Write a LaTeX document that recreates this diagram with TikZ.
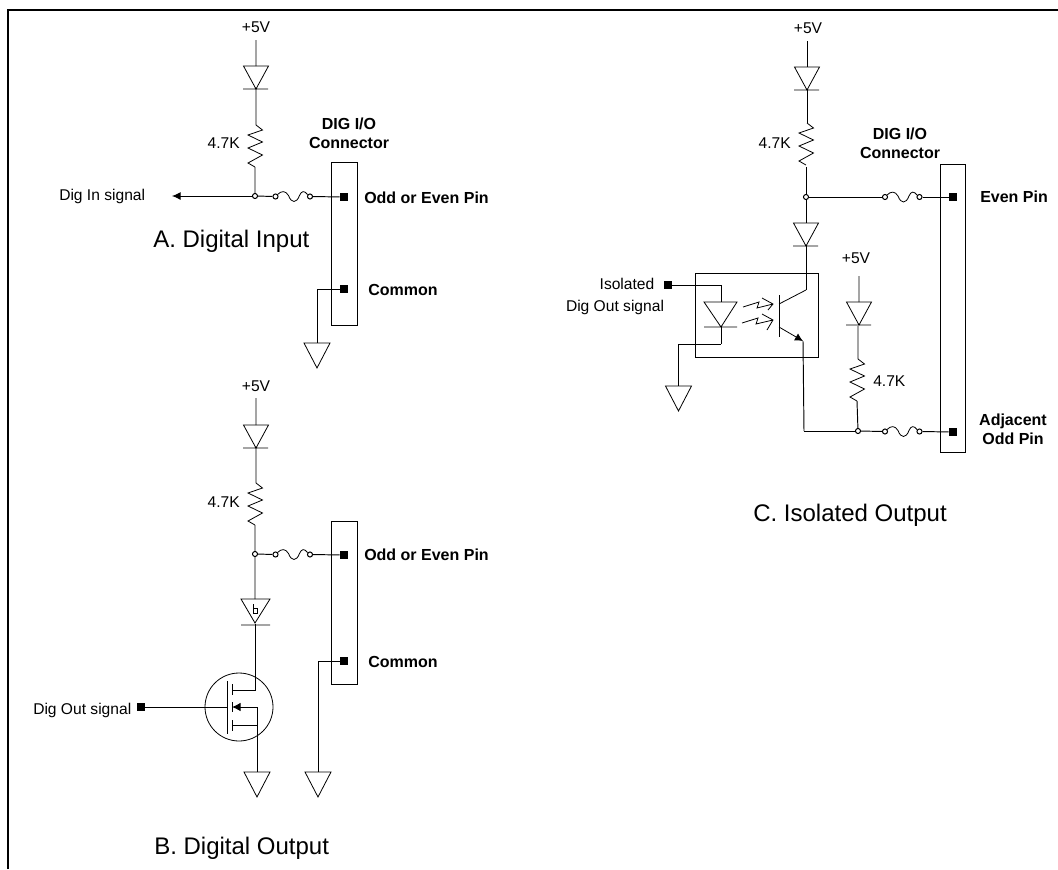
\documentclass[tikz,border=0pt]{standalone}
\usepackage{fontspec}
\setmainfont{Liberation Sans}
\usetikzlibrary{arrows.meta}
\tikzset{
  wire/.style={line width=.72pt},
  part/.style={line width=.6pt,line join=miter},
  lbl/.style={inner sep=0pt,font=\fontsize{11.7}{13}\selectfont},
  pinlbl/.style={inner sep=0pt,font=\fontsize{12}{13}\selectfont\bfseries,align=center},
  caption/.style={inner sep=0pt,font=\fontsize{18}{21}\selectfont},
  pin/.style={fill=black,inner sep=0pt,minimum size=6pt},
  junct/.style={draw,fill=white,circle,line width=.75pt,inner sep=0pt,minimum size=3.8pt}
}
\begin{document}
\begin{tikzpicture}[x=.75pt,y=-.75pt]
\def\diode#1{\draw[part,shift={(#1)}] (-12.5,0) -- (12.5,0) -- (0,23) -- cycle (-13,23) -- (12,23);}
\def\resistor#1{\draw[part,shift={(#1)}] (0,0) -- (6.5,5) -- (-8,10) -- (6.5,17) -- (-8,23) -- (6.5,30) -- (-8,38) -- (-1,42);}
\def\ground#1{\draw[part,shift={(#1)}] (-13,0) -- (13,0) -- (0,25) -- cycle;}
\def\fuse#1{\draw[part,shift={(#1)}] (2,-2) .. controls (6,-6) and (10,-6) .. (13,-1) .. controls (16,7) and (21,7) .. (24,-1) .. controls (26,-6) and (29,-6) .. (32,-2);}
\useasboundingbox (0,0) rectangle (1058,869);
\draw[line width=1.9pt] (8,869) -- (8,10) -- (1058,10);

% A. Digital Input
\node[lbl] (aV) at (256,27) {+5V};
\coordinate (aVw) at (256,40);
\coordinate (aDt) at (256,66);
\coordinate (aDb) at (256,89);
\coordinate (aRt) at (256,125);
\coordinate (aRb) at (255,167);
\node[junct] (aJ) at (255,196) {};
\node[junct] (aFl) at (275.5,196.5) {};
\node[junct] (aFr) at (310,196.5) {};
\node[pin] (aP) at (344,197) {};
\node[pin] (aC) at (344,289) {};
\coordinate (aAr) at (172,196);
\coordinate (aGt) at (317,343);
\diode{aDt}
\resistor{aRt}
\fuse{aFl}
\ground{aGt}
\draw[wire] (aVw) -- (aDt) (aDb) -- (aRt) (aRb) -- (aJ) (aFr) -- (aP);
\draw[wire] (aFl) -- (aJ);
\draw[wire,-{Latex[length=6.5pt,width=6pt]}] (aJ) -- (aAr);
\draw[wire] (aC) -| (aGt);
\draw[part] (331,162) rectangle (357,325);
\node[pinlbl] (aT) at (349,133) {DIG I/O\\[1.5pt]Connector};
\node[lbl,anchor=east] (aK) at (240,143) {4.7K};
\node[lbl,anchor=west] (aIn) at (59,196) {Dig In signal};
\node[pinlbl,anchor=west] (aPl) at (364,198) {Odd or Even Pin};
\node[pinlbl,anchor=west] (aCl) at (368,290) {Common};
\node[caption,anchor=west] (aCap) at (153,241) {A. Digital Input};

% B. Digital Output
\node[lbl] (bV) at (256,386) {+5V};
\coordinate (bVw) at (256,398);
\coordinate (bDt) at (256,425);
\coordinate (bDb) at (256,448);
\coordinate (bRt) at (256,483);
\coordinate (bRb) at (255,525);
\node[junct] (bJ) at (255,554) {};
\node[junct] (bFl) at (275.5,554.5) {};
\node[junct] (bFr) at (310,554.5) {};
\node[pin] (bP) at (344,555) {};
\node[pin] (bC) at (344,661) {};
\node[pin] (bG) at (141,707) {};
\coordinate (bSt) at (255,599);
\coordinate (bSb) at (255,624);
\coordinate (bDr) at (255,690);
\coordinate (bDp) at (232,690);
\coordinate (bGp) at (227,707);
\coordinate (bSa) at (232,707);
\coordinate (bSo) at (257,707);
\coordinate (bSg) at (257,772);
\coordinate (bGt) at (318,772);
\diode{bDt}
\resistor{bRt}
\fuse{bFl}
\ground{bGt}
\ground{bSg}
\draw[part,shift={(bSt)}] (-14,0) -- (15,0) -- (0,24) -- cycle (-14,26) -- (15,26);
\draw[part,shift={(bSt)}] (-2,5) -- (-2,14) -- (2.5,14) -- (2.5,9) -- (-2,9);
\draw[wire] (bVw) -- (bDt) (bDb) -- (bRt) (bRb) -- (bJ) (bJ) -- (bFl) (bFr) -- (bP) (bJ) -- (bSt);
\draw[wire] (bSb) -- (bDr) -- (bDp);
\draw[wire] (bG) -- (bGp);
\draw[wire,{Latex[length=6.5pt,width=6.5pt]}-] (bSa) -- (bSo) -- (bSg);
\draw[wire] (232,725) -- (257,725);
\draw[wire] (bC) -| (bGt);
\draw[part] (239,707) circle (34);
\draw[part] (bGp |- 0,681) -- (bGp |- 0,734);
\draw[part] (232,684) -- (232,695) (232,702) -- (232,712) (232,720) -- (232,731);
\draw[part] (331,521) rectangle (357,684);
\node[lbl,anchor=east] (bK) at (240,502) {4.7K};
\node[lbl,anchor=west] (bOut) at (33,710) {Dig Out signal};
\node[pinlbl,anchor=west] (bPl) at (364,555) {Odd or Even Pin};
\node[pinlbl,anchor=west] (bCl) at (368,662) {Common};
\node[caption,anchor=west] (bCap) at (154,848) {B. Digital Output};

% C. Isolated Output
\node[lbl] (cV) at (808,28) {+5V};
\coordinate (cVw) at (807,41);
\coordinate (cDt) at (807,67);
\coordinate (cDb) at (807,90);
\coordinate (cRt) at (807,123);
\coordinate (cRb) at (806,167);
\node[junct] (cJ) at (806,197) {};
\node[junct] (cFl) at (885,197) {};
\node[junct] (cFr) at (919.5,197) {};
\node[pin] (cP) at (953,197) {};
\coordinate (cQt) at (806,223);
\coordinate (cQb) at (806,246);
\coordinate (cCo) at (806,290);
\coordinate (cBc) at (779,304);
\coordinate (cBe) at (779,327);
\coordinate (cEa) at (803,341);
\coordinate (cEb) at (804,431);
\node[pin] (cIn) at (668,285) {};
\coordinate (cLa) at (721,285);
\coordinate (cLt) at (721,302);
\coordinate (cLb) at (721,327);
\coordinate (cLk) at (721,344);
\coordinate (cGt) at (678.5,386);
\coordinate (dVw) at (859,276);
\coordinate (dDt) at (859,302);
\coordinate (dDb) at (858,326);
\coordinate (dRt) at (858,359);
\coordinate (dRb) at (857,401);
\node[junct] (dJ) at (858,431) {};
\node[junct] (dFl) at (885,431.5) {};
\node[junct] (dFr) at (919.5,431.5) {};
\node[pin] (dP) at (953,432) {};
\diode{cDt}
\resistor{cRt}
\fuse{cFl}
\diode{cQt}
\diode{dDt}
\resistor{dRt}
\fuse{dFl}
\ground{cGt}
\draw[part,shift={(cLt)}] (-17,0) -- (16,0) -- (0,25) -- cycle (-17,25) -- (16,25);
\draw[wire] (cVw) -- (cDt) (cDb) -- (cRt) (cRb) -- (cJ) (cJ) -- (cFl) (cFr) -- (cP) (cJ) -- (cQt);
\draw[wire] (cQb) -- (cCo);
\draw[part] (cCo) -- (cBc);
\draw[part,-{Latex[length=6pt,width=6pt]}] (cBe) -- (cEa);
\draw[part] (779,295) -- (779,337);
\draw[wire] (cEb) -- (cEa);
\draw[wire] (cEb) -- (dJ);
\draw[wire] (cIn) -- (cLa) -- (cLt);
\draw[wire] (cLb) -- (cLk);
\draw[wire] (cLk) -| (cGt);
\draw[wire] (695,273) rectangle (818,357);
\draw[part] (743,307) -- (759,302) -- (757,308) -- (773,304) (762,298) -- (773,304) -- (768,310);
\draw[part] (742,323) -- (758,318) -- (756,324) -- (773,320) (762,314) -- (773,320) -- (767,330);
\draw[wire] (dVw) -- (dDt) (dDb) -- (dRt) (dRb) -- (dJ) (dJ) -- (dFl) (dFr) -- (dP);
\draw[part] (940,164) rectangle (965.5,452);
\node[pinlbl] (cT) at (900,143) {DIG I/O\\[1.5pt]Connector};
\node[lbl,anchor=east] (cK) at (791,143) {4.7K};
\node[lbl] (dV) at (856,258) {+5V};
\node[lbl,anchor=west] (dK) at (873,381) {4.7K};
\node[lbl] (cIso) at (627,284) {Isolated};
\node[lbl] (cDo) at (615,307) {Dig Out signal};
\node[pinlbl,anchor=west] (cPl) at (980,197) {Even Pin};
\node[pinlbl] (dPl) at (1013,429.5) {Adjacent\\[1.5pt]Odd Pin};
\node[caption,anchor=west] (cCap) at (753,515) {C. Isolated Output};
\end{tikzpicture}
\end{document}
